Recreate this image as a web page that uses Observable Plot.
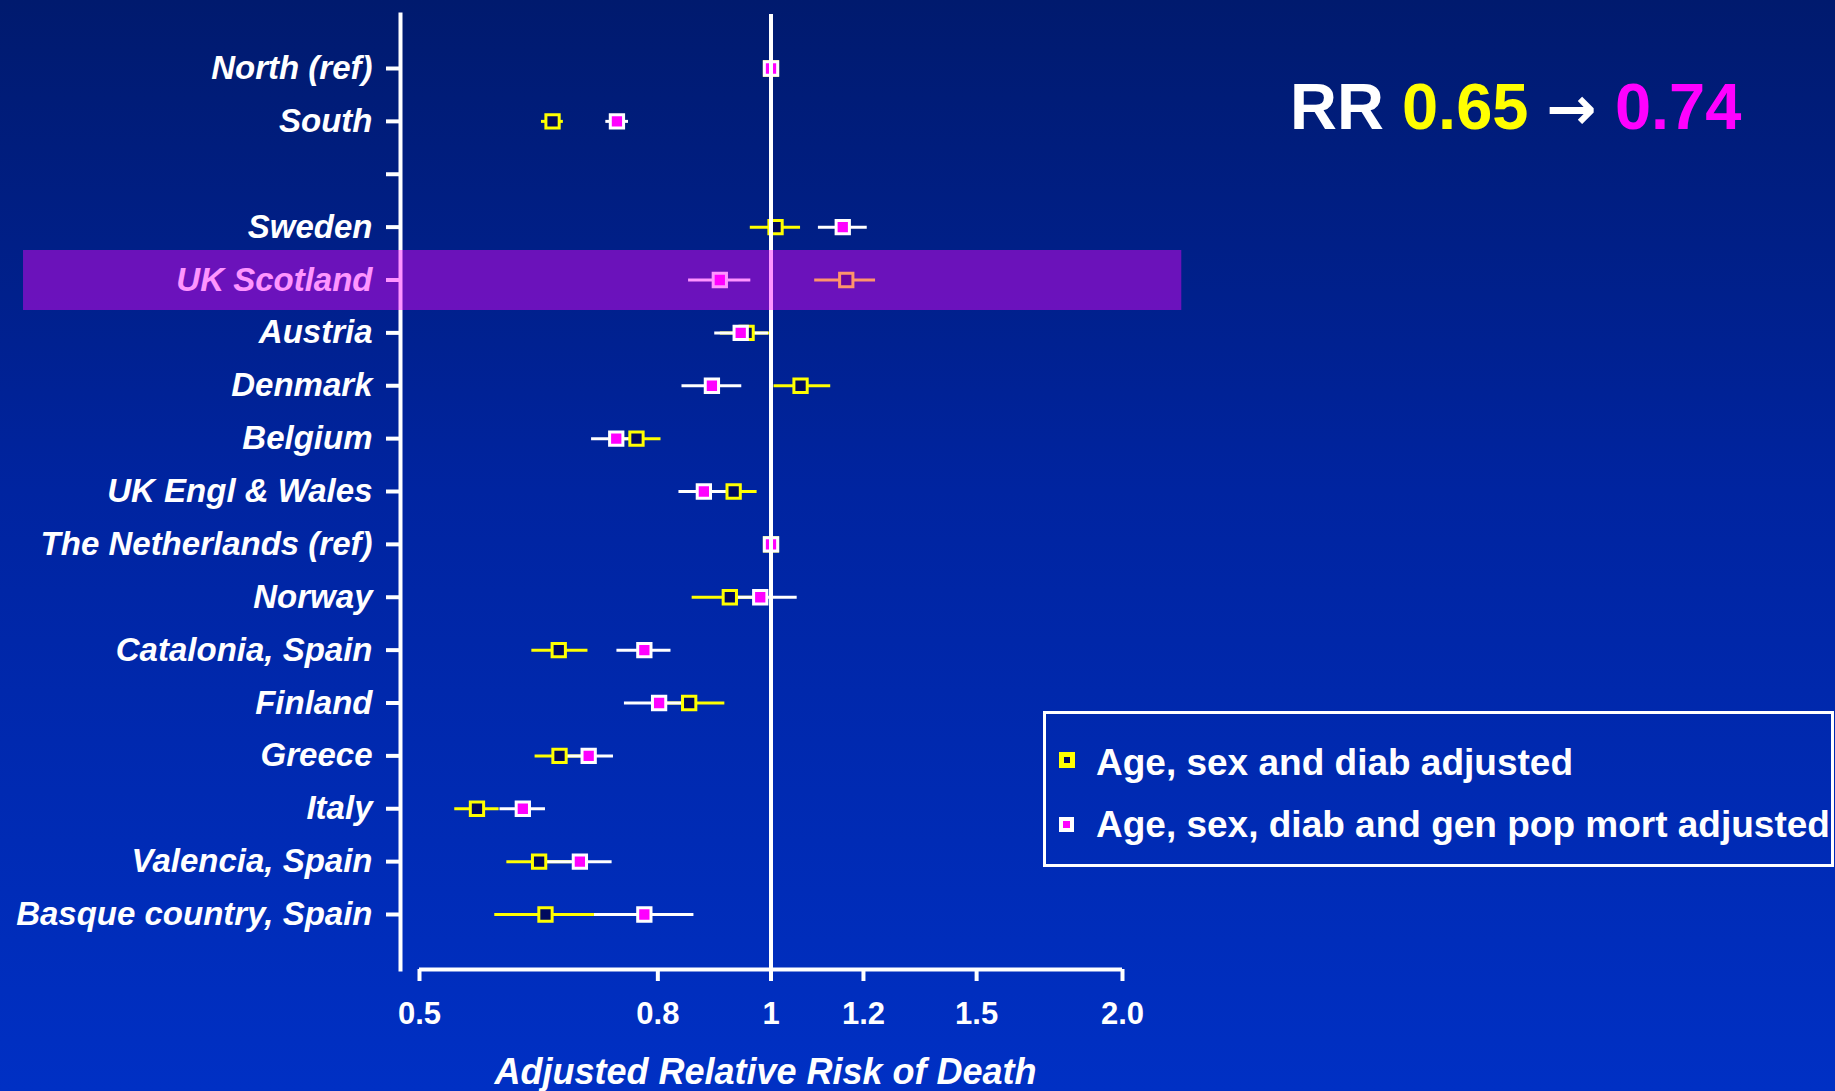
<!DOCTYPE html>
<html>
<head>
<meta charset="utf-8">
<script src="https://cdn.jsdelivr.net/npm/d3@7"></script>
<script src="https://cdn.jsdelivr.net/npm/@observablehq/plot@0.6"></script>
<style>
  html, body { margin: 0; padding: 0; }
  body { width: 1835px; height: 1091px; overflow: hidden; font-family: "Liberation Sans", Arial, sans-serif; }
  #page { position: relative; width: 1835px; height: 1091px;
    background: linear-gradient(to bottom, #001a6e 0%, #0024a0 45%, #0030c4 100%); }
  #chart { position: absolute; left: 0; top: 0; }
  #rr { position: absolute; left: 1290px; top: 74px; font-size: 65px; line-height: 65px; font-weight: bold; color: white; white-space: nowrap; }
  #rr .arrow { font-family: "DejaVu Sans", sans-serif; font-size: 60px; }
  #legend { position: absolute; left: 1043px; top: 711px; width: 785px; height: 150px; border: 3px solid white; }
  .lg-item { position: absolute; left: 50px; font-size: 37px; line-height: 37px; font-weight: bold; color: white; white-space: nowrap; }
  .lg-key { position: absolute; box-sizing: border-box; }
</style>
</head>
<body>
<div id="page">
  <div id="chart"></div>
  <div id="rr"></div>
  <div id="legend"></div>
</div>
<script>
// ---- Data ----
const rowOrder = ["North (ref)", "South", " ", "Sweden", "UK Scotland", "Austria", "Denmark", "Belgium",
  "UK Engl & Wales", "The Netherlands (ref)", "Norway", "Catalonia, Spain", "Finland", "Greece",
  "Italy", "Valencia, Spain", "Basque country, Spain"];

const countries = ["North (ref)", "South", "Sweden", "UK Scotland", "Austria", "Denmark", "Belgium",
  "UK Engl & Wales", "The Netherlands (ref)", "Norway", "Catalonia, Spain", "Finland", "Greece",
  "Italy", "Valencia, Spain", "Basque country, Spain"];

// Series 1: Age, sex and diab adjusted
const adjRR = [1.00, 0.650, 1.009, 1.160, 0.953, 1.060, 0.767, 0.929, 1.00, 0.922, 0.658, 0.851, 0.659, 0.560, 0.633, 0.641];
const adjLo = [1.00, 0.636, 0.960, 1.090, 0.905, 1.006, 0.731, 0.887, 1.00, 0.856, 0.624, 0.794, 0.628, 0.536, 0.594, 0.580];
const adjHi = [1.00, 0.664, 1.060, 1.229, 0.998, 1.125, 0.805, 0.973, 1.00, 0.993, 0.697, 0.913, 0.691, 0.585, 0.675, 0.706];

// Series 2: Age, sex, diab and gen pop mort adjusted
const popRR = [1.00, 0.738, 1.152, 0.904, 0.942, 0.890, 0.737, 0.876, 1.00, 0.979, 0.779, 0.802, 0.698, 0.613, 0.686, 0.779];
const popLo = [1.00, 0.722, 1.098, 0.850, 0.895, 0.839, 0.702, 0.834, 1.00, 0.910, 0.738, 0.749, 0.665, 0.586, 0.643, 0.706];
const popHi = [1.00, 0.755, 1.209, 0.961, 0.995, 0.944, 0.774, 0.920, 1.00, 1.053, 0.821, 0.859, 0.733, 0.641, 0.731, 0.859];

const xTicks = [0.5, 0.8, 1, 1.2, 1.5, 2];
const xTickLabels = ["0.5", "0.8", "1", "1.2", "1.5", "2.0"];
const xTitle = "Adjusted Relative Risk of Death";
const refValue = 1;
const highlightRow = "UK Scotland";
const highlightExtent = [0.229, 2.248];
const seriesNames = ["Age, sex and diab adjusted", "Age, sex, diab and gen pop mort adjusted"];
const rrSummary = {label: "RR ", before: "0.65", arrow: "\u2192", after: "0.74"};

// ---- Build tables ----
const adjData = countries.map((c, i) => ({row: c, rr: adjRR[i], lo: adjLo[i], hi: adjHi[i]}));
const popData = countries.map((c, i) => ({row: c, rr: popRR[i], lo: popLo[i], hi: popHi[i]}));

const YELLOW = "#ffff00", MAGENTA = "#ff00ff", NAVY = "#000a5e", WHITE = "#ffffff";

const chart = Plot.plot({
  width: 1835,
  height: 1091,
  marginLeft: 400,
  marginRight: 705,
  marginTop: 14,
  marginBottom: 122,
  style: {background: "transparent", color: "white", fontFamily: "'Liberation Sans', Arial, sans-serif", overflow: "visible"},
  x: {type: "log", domain: [0.5, 2], range: [419, 1122]},
  y: {type: "point", domain: rowOrder, range: [68, 914], padding: 0, round: false},
  marks: [
    Plot.frame({anchor: "left", stroke: WHITE, strokeWidth: 4}),
    Plot.axisY({tickSize: 14, tickPadding: 14, fontSize: 33, fontWeight: "bold", fontStyle: "italic",
      stroke: WHITE, strokeWidth: 4, label: null}),
    Plot.ruleY([rowOrder[rowOrder.length - 1]], {x1: xTicks[0], x2: xTicks[xTicks.length - 1], dy: 55,
      stroke: WHITE, strokeWidth: 4}),
    Plot.axisX({ticks: xTicks, tickFormat: d => xTickLabels[xTicks.indexOf(d)], tickSize: 12, tickPadding: 20,
      fontSize: 31, fontWeight: "bold", stroke: WHITE, strokeWidth: 4, label: null}),
    Plot.text([xTitle], {frameAnchor: "bottom", dy: 103, fontSize: 36, fontWeight: "bold", fontStyle: "italic",
      fill: WHITE, lineAnchor: "middle"}),
    // error bars
    Plot.ruleY(adjData, {y: "row", x1: "lo", x2: "hi", stroke: YELLOW, strokeWidth: 3}),
    Plot.ruleY(popData, {y: "row", x1: "lo", x2: "hi", stroke: WHITE, strokeWidth: 3}),
    // points
    Plot.dot(adjData, {y: "row", x: "rr", symbol: "square", r: 7.5, fill: NAVY, stroke: YELLOW, strokeWidth: 3}),
    Plot.dot(popData, {y: "row", x: "rr", symbol: "square", r: 7.5, fill: MAGENTA, stroke: WHITE, strokeWidth: 3}),
    // reference line
    Plot.ruleX([refValue], {stroke: WHITE, strokeWidth: 4}),
    // highlight band
    Plot.ruleY([highlightRow], {x1: highlightExtent[0], x2: highlightExtent[1], stroke: MAGENTA,
      strokeOpacity: 0.42, strokeWidth: 60})
  ]
});
document.getElementById("chart").appendChild(chart);

// RR summary text
const rr = document.getElementById("rr");
rr.innerHTML = `<span style="color:${WHITE}">${rrSummary.label}</span><span style="color:${YELLOW}">${rrSummary.before}</span> <span class="arrow" style="color:${WHITE}">${rrSummary.arrow}</span> <span style="color:${MAGENTA}">${rrSummary.after}</span>`;

// Legend
const legend = document.getElementById("legend");
const keys = [
  {outer: YELLOW, inner: NAVY, size: 16, inset: 5, top: 38},
  {outer: WHITE, inner: MAGENTA, size: 15, inset: 4, top: 103}
];
seriesNames.forEach((name, i) => {
  const k = keys[i];
  const key = document.createElement("div");
  key.className = "lg-key";
  key.style.cssText = `left:13px;top:${k.top}px;width:${k.size}px;height:${k.size}px;background:${k.inner};border:${k.inset}px solid ${k.outer};`;
  legend.appendChild(key);
  const t = document.createElement("div");
  t.className = "lg-item";
  t.style.top = (i === 0 ? 30 : 92) + "px";
  t.textContent = name;
  legend.appendChild(t);
});
</script>
</body>
</html>
